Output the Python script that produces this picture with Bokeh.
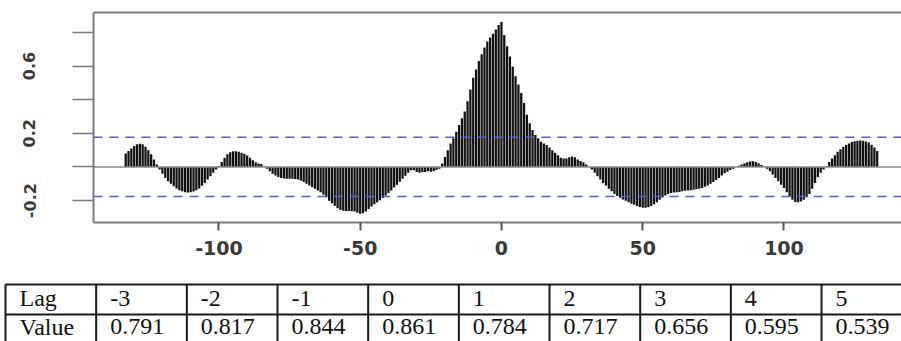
from bokeh.plotting import figure
from bokeh.models import Range1d, LinearAxis, FixedTicker, Span, ColumnDataSource
from bokeh.layouts import column
from bokeh.embed import file_html
from bokeh.resources import INLINE
from bokeh.core.properties import value

# ---- data: cross-correlation by lag ----
lags = list(range(-133, 134))
ccf = [
    0.08, 0.095, 0.11, 0.125, 0.135, 0.138, 0.135, 0.12, 0.10, 0.075,
    0.045, 0.015, -0.015, -0.04, -0.065, -0.085, -0.10, -0.115, -0.128, -0.138,
    -0.145, -0.15, -0.152, -0.15, -0.146, -0.138, -0.128, -0.112, -0.095, -0.075,
    -0.055, -0.035, -0.015, 0.005, 0.03, 0.055, 0.075, 0.088, 0.094, 0.094,
    0.09, 0.085, 0.078, 0.068, 0.055, 0.04, 0.028, 0.02, 0.018, 0.005,
    -0.01, -0.025, -0.04, -0.05, -0.06, -0.065, -0.068, -0.07, -0.07, -0.07,
    -0.072, -0.075, -0.08, -0.09, -0.10, -0.11, -0.12, -0.13, -0.14, -0.15,
    -0.165, -0.18, -0.20, -0.215, -0.23, -0.245, -0.255, -0.26, -0.262, -0.262,
    -0.263, -0.265, -0.272, -0.278, -0.275, -0.265, -0.25, -0.235, -0.222, -0.21,
    -0.198, -0.185, -0.17, -0.155, -0.14, -0.122, -0.105, -0.088, -0.07, -0.052,
    -0.035, -0.02, -0.02, -0.03, -0.035, -0.03, -0.03, -0.025, -0.028, -0.025,
    -0.018, -0.01, 0.02, 0.06, 0.10, 0.14, 0.17, 0.21, 0.25, 0.29,
    0.33, 0.39, 0.46, 0.53, 0.58, 0.63, 0.67, 0.71, 0.745, 0.77,
    0.791, 0.817, 0.844, 0.861, 0.784, 0.717, 0.656, 0.595, 0.539, 0.49,
    0.44, 0.38, 0.31, 0.26, 0.22, 0.19, 0.17, 0.15, 0.14, 0.13,
    0.115, 0.10, 0.085, 0.07, 0.055, 0.05, 0.05, 0.058, 0.062, 0.058,
    0.045, 0.035, 0.028, 0.015, 0.0, -0.015, -0.035, -0.055, -0.075, -0.095,
    -0.11, -0.13, -0.145, -0.16, -0.172, -0.183, -0.193, -0.2, -0.21, -0.218,
    -0.225, -0.232, -0.238, -0.242, -0.243, -0.24, -0.232, -0.222, -0.21, -0.195,
    -0.182, -0.17, -0.16, -0.155, -0.152, -0.15, -0.148, -0.145, -0.142, -0.14,
    -0.138, -0.135, -0.132, -0.13, -0.125, -0.118, -0.11, -0.10, -0.09, -0.078,
    -0.065, -0.05, -0.038, -0.028, -0.018, -0.01, 0.0, 0.008, 0.015, 0.022,
    0.028, 0.032, 0.034, 0.03, 0.022, 0.012, 0.005, -0.01, -0.025, -0.045,
    -0.065, -0.085, -0.105, -0.125, -0.15, -0.175, -0.195, -0.208, -0.21, -0.205,
    -0.195, -0.18, -0.16, -0.13, -0.095, -0.06, -0.035, -0.015, 0.005, 0.03,
    0.05, 0.07, 0.09, 0.105, 0.12, 0.13, 0.14, 0.148, 0.153, 0.156,
    0.157, 0.156, 0.152, 0.145, 0.132, 0.115, 0.095,
]
assert len(ccf) == len(lags)
conf_limit = 0.176
x_ticks = [-100, -50, 0, 50, 100]
x_tick_labels = {-100: "-100", -50: "-50", 0: "0", 50: "50", 100: "100"}
y_ticks = [-0.2, 0.0, 0.2, 0.4, 0.6, 0.8]
y_tick_labels = {-0.2: "-0.2", 0.0: "", 0.2: "0.2", 0.4: "", 0.6: "0.6", 0.8: ""}

table_header = ["Lag", "Value"]
table_lags = ["-3", "-2", "-1", "0", "1", "2", "3", "4", "5"]
table_values = ["0.791", "0.817", "0.844", "0.861", "0.784", "0.717", "0.656", "0.595", "0.539"]

FRAME = "#7a7a7a"
W = 901

# ---- chart ----
p = figure(width=W, height=270, output_backend="svg", toolbar_location=None,
           x_range=Range1d(-144.4, 141.6), y_range=Range1d(-0.330, 0.918),
           min_border_left=93, min_border_right=0, min_border_top=12, min_border_bottom=48,
           x_axis_type=None, y_axis_type=None)
p.frame_align = False
p.outline_line_color = None
p.xgrid.visible = False
p.ygrid.visible = False
p.background_fill_color = "white"
p.border_fill_color = "white"

src = ColumnDataSource(dict(lag=lags, ccf=ccf))
p.vbar(x="lag", top="ccf", bottom=0, width=0.8, source=src,
       fill_color="#111111", line_color=None)

p.add_layout(Span(location=0, dimension="width", line_color="#8a8a8a", line_width=1.5))
for c in (conf_limit, -conf_limit):
    p.add_layout(Span(location=c, dimension="width", line_color="#4f5fc4",
                      line_width=1.5, line_dash="9 7"))

yaxis = LinearAxis(ticker=FixedTicker(ticks=y_ticks), major_label_overrides=y_tick_labels)
yaxis.axis_line_color = FRAME
yaxis.axis_line_width = 2
yaxis.major_tick_line_color = FRAME
yaxis.major_tick_line_width = 1.5
yaxis.major_tick_out = 21
yaxis.major_tick_in = 0
yaxis.minor_tick_line_color = None
yaxis.major_label_orientation = "vertical"
yaxis.major_label_standoff = 37
yaxis.major_label_text_font = "DejaVu Sans"
yaxis.major_label_text_font_size = "16px"
yaxis.major_label_text_font_style = "bold"
yaxis.major_label_text_color = "#3a3a3a"
p.add_layout(yaxis, "left")

xaxis = LinearAxis(ticker=FixedTicker(ticks=x_ticks), major_label_overrides=x_tick_labels)
xaxis.axis_line_color = FRAME
xaxis.axis_line_width = 2
xaxis.major_tick_line_color = "#555555"
xaxis.major_tick_line_width = 2
xaxis.major_tick_out = 8
xaxis.major_tick_in = 0
xaxis.minor_tick_line_color = None
xaxis.major_label_standoff = 10
xaxis.major_label_text_font = "DejaVu Sans"
xaxis.major_label_text_font_size = "19px"
xaxis.major_label_text_font_style = "bold"
xaxis.major_label_text_color = "#3a3a3a"
p.add_layout(xaxis, "below")

top = LinearAxis(ticker=FixedTicker(ticks=[]))
top.axis_line_color = FRAME
top.axis_line_width = 2
top.major_tick_line_color = None
top.minor_tick_line_color = None
top.major_tick_out = 0
top.major_tick_in = 0
top.major_label_text_font_size = "0px"
top.major_label_standoff = 0
p.add_layout(top, "above")

# ---- table ----
TH = 71
t = figure(width=W, height=TH, output_backend="svg", toolbar_location=None,
           x_range=Range1d(0, W), y_range=Range1d(TH, 0),
           min_border=0, min_border_left=0, min_border_right=0,
           min_border_top=0, min_border_bottom=0,
           x_axis_type=None, y_axis_type=None)
t.frame_align = False
t.outline_line_color = None
t.xgrid.visible = False
t.ygrid.visible = False

x0 = 5.0
col_w = 90.67
n_cols = 1 + len(table_lags)
row_top, row_mid, row_bot = 14, 44, 74
edges = [x0 + i * col_w for i in range(n_cols)]
t.segment(x0=edges, y0=[row_top] * n_cols, x1=edges, y1=[row_bot] * n_cols,
          line_color="#1a1a1a", line_width=2)
t.segment(x0=[x0, x0], y0=[row_top, row_mid], x1=[W, W], y1=[row_top, row_mid],
          line_color="#1a1a1a", line_width=2)

cells_x, cells_y, cells_t = [], [], []
for i, (lab, val) in enumerate(zip([table_header[0]] + table_lags,
                                   [table_header[1]] + table_values)):
    cells_x += [edges[i] + 14, edges[i] + 14]
    cells_y += [27.5, 56]
    cells_t += [lab, val]
t.text(x=cells_x, y=cells_y, text=cells_t, text_font=value("Liberation Serif"),
       text_font_size="24px", text_color="#111111", text_baseline="alphabetic",
       text_align="left")

layout = column(p, t, spacing=0)
open("out.html", "w").write(file_html(layout, INLINE))
